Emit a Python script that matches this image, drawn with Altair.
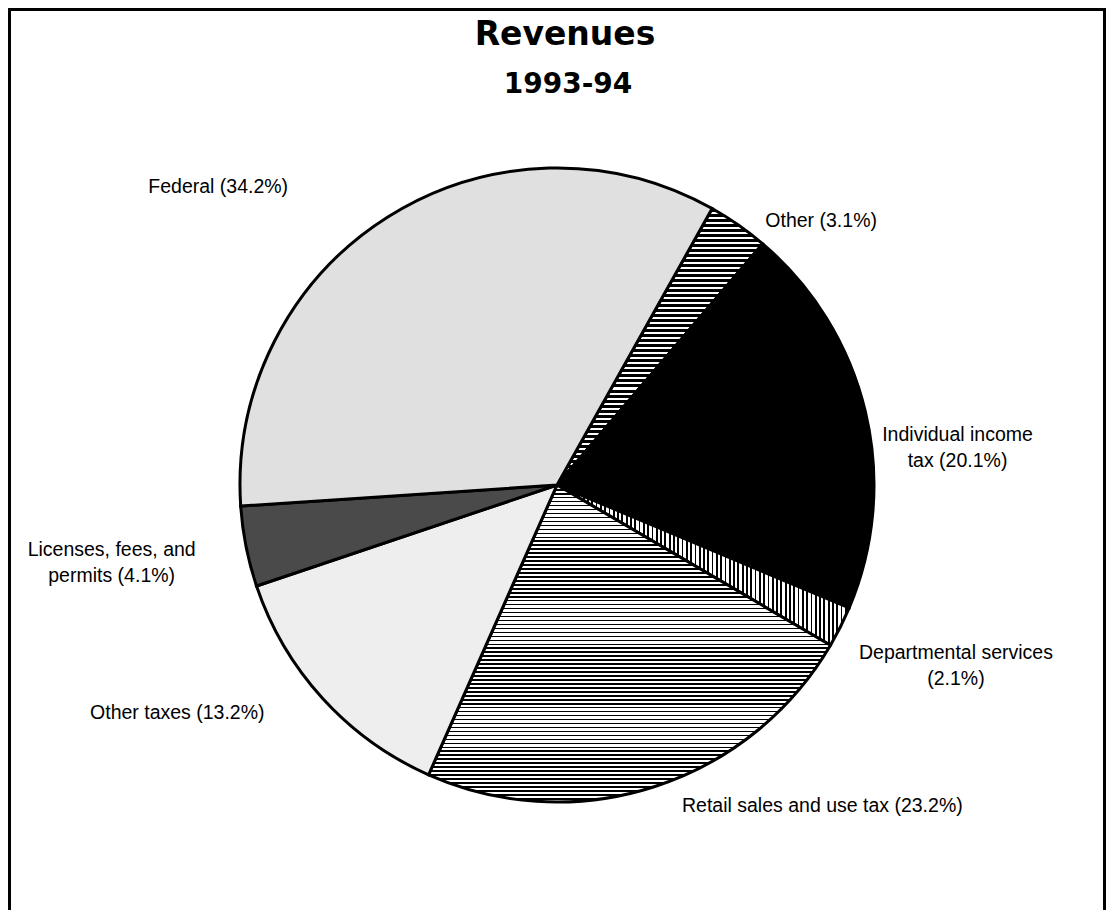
import math
import altair as alt
import pandas as pd

# ---- data ----
categories = [
    "Other",
    "Individual income tax",
    "Departmental services",
    "Retail sales and use tax",
    "Other taxes",
    "Licenses, fees, and permits",
    "Federal",
]
shares = [3.1, 20.1, 2.1, 23.2, 13.2, 4.1, 34.2]
labels = [
    "Other (3.1%)",
    "Individual income\ntax (20.1%)",
    "Departmental services\n(2.1%)",
    "Retail sales and use tax (23.2%)",
    "Other taxes (13.2%)",
    "Licenses, fees, and\npermits (4.1%)",
    "Federal (34.2%)",
]
order = [0, 1, 2, 3, 4, 5, 6]
title_text = "Revenues"
subtitle_text = "1993-94"

df = pd.DataFrame({"category": categories, "share": shares, "label": labels, "order": order})

# ---- layout / style ----
W, H = 1098, 902
CX, CY = 549, 477
R = 317
a0 = math.radians(29.3)
theta_scale = alt.Scale(domain=[0, 100], range=[a0, a0 + 2 * math.pi])


def stripes(n, ink, paper, ink_frac, vertical):
    stops = []
    for i in range(n):
        s = round(i / n, 5)
        m = round((i + ink_frac) / n, 5)
        e = round((i + 1) / n, 5)
        stops += [
            alt.GradientStop(offset=s, color=ink),
            alt.GradientStop(offset=m, color=ink),
            alt.GradientStop(offset=m, color=paper),
            alt.GradientStop(offset=e, color=paper),
        ]
    if vertical:
        return alt.LinearGradient(gradient="linear", stops=stops, x1=0, y1=0, x2=1, y2=0)
    return alt.LinearGradient(gradient="linear", stops=stops, x1=0, y1=0, x2=0, y2=1)


fills = {
    "Other": stripes(55, "#000000", "#ffffff", 0.6, False),
    "Individual income tax": "#000000",
    "Departmental services": stripes(68, "#000000", "#ffffff", 0.42, True),
    "Retail sales and use tax": stripes(80, "#000000", "#ffffff", 0.4, False),
    "Other taxes": "#eeeeee",
    "Licenses, fees, and permits": "#4a4a4a",
    "Federal": "#e0e0e0",
}
label_offsets = {
    "Other": (64, 23),
    "Individual income tax": (60, 31),
    "Departmental services": (86, 11),
    "Retail sales and use tax": (158, -12),
    "Other taxes": (-121, -8),
    "Licenses, fees, and permits": (-102, -3),
    "Federal": (-152, -2),
}

base = (
    alt.Chart(df)
    .transform_window(cum="sum(share)", sort=[alt.SortField("order")], frame=[None, 0])
    .transform_calculate(start="datum.cum - datum.share", mid="datum.cum - datum.share / 2")
)

layers = []
for c in categories:
    arc = (
        base.transform_filter(alt.datum.category == c)
        .mark_arc(fill=fills[c], stroke="#000000", strokeWidth=3, outerRadius=R)
        .encode(
            theta=alt.Theta("start:Q", scale=theta_scale),
            theta2="cum:Q",
            x=alt.value(CX),
            y=alt.value(CY),
        )
    )
    layers.append(arc)

for c in categories:
    dx, dy = label_offsets[c]
    txt = (
        base.transform_filter(alt.datum.category == c)
        .mark_text(
            font="Liberation Sans",
            fontSize=19.5,
            color="#000000",
            align="center",
            baseline="middle",
            lineBreak="\n",
            lineHeight=26,
            radius=350,
            dx=dx,
            dy=dy,
        )
        .encode(
            theta=alt.Theta("mid:Q", scale=theta_scale),
            text="label:N",
            x=alt.value(CX),
            y=alt.value(CY),
        )
    )
    layers.append(txt)

tdf = pd.DataFrame({"t": [title_text], "s": [subtitle_text]})
title = alt.Chart(tdf).mark_text(
    font="DejaVu Sans", fontWeight="bold", fontSize=33, align="center", baseline="alphabetic", color="#000000"
).encode(text="t:N", x=alt.value(557), y=alt.value(37))
subtitle = alt.Chart(tdf).mark_text(
    font="DejaVu Sans", fontWeight="bold", fontSize=28, align="center", baseline="alphabetic", color="#000000"
).encode(text="s:N", x=alt.value(560), y=alt.value(85))

frame = alt.Chart(tdf).mark_rect(filled=False, stroke="#000000", strokeWidth=3).encode(
    x=alt.value(1.5), y=alt.value(1.5), x2=alt.value(1096.5), y2=alt.value(960)
)

chart = (
    alt.layer(*layers, title, subtitle, frame)
    .properties(width=W, height=H, autosize=alt.AutoSizeParams(type="none"), padding=0, background="#ffffff")
    .configure_view(strokeWidth=0)
)

chart.save("out.html", embed_options={"renderer": "svg", "actions": False})
